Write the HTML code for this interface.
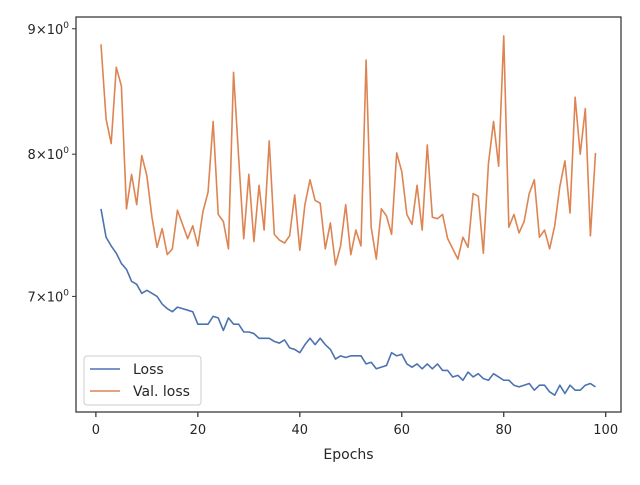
<!DOCTYPE html>
<html><head><meta charset="utf-8"><style>
body{margin:0;background:#fff}
svg text{font-family:"DejaVu Sans","Liberation Sans",sans-serif;fill:#262626}
</style></head><body>
<svg id="chart" width="640" height="480" viewBox="0 0 640 480" xmlns="http://www.w3.org/2000/svg">
<rect x="0" y="0" width="640" height="480" fill="#fff"/>
<g id="plot"></g>
</svg>
<script>
const epochs = Array.from({length:98},(_,i)=>i+1);
const lossValues = [7.60,7.40,7.34,7.29,7.22,7.18,7.10,7.08,7.02,7.04,
7.02,7.00,6.95,6.92,6.90,6.93,6.92,6.91,6.90,6.82,
6.82,6.82,6.87,6.86,6.78,6.86,6.82,6.82,6.77,6.77,
6.76,6.73,6.73,6.73,6.71,6.70,6.72,6.67,6.66,6.64,
6.69,6.73,6.69,6.73,6.69,6.66,6.60,6.62,6.61,6.62,
6.62,6.62,6.57,6.58,6.54,6.55,6.56,6.64,6.62,6.63,
6.57,6.55,6.57,6.54,6.57,6.54,6.57,6.53,6.53,6.49,
6.50,6.47,6.52,6.49,6.51,6.48,6.47,6.51,6.49,6.47,
6.47,6.44,6.43,6.44,6.45,6.41,6.44,6.44,6.40,6.38,
6.44,6.39,6.44,6.41,6.41,6.44,6.45,6.43];
const valLossValues = [8.87,8.27,8.08,8.68,8.53,7.60,7.85,7.63,7.99,7.84,
7.54,7.33,7.46,7.28,7.32,7.59,7.49,7.39,7.48,7.34,
7.58,7.72,8.25,7.56,7.51,7.32,8.64,7.98,7.39,7.85,
7.37,7.77,7.45,8.10,7.42,7.38,7.36,7.41,7.70,7.31,
7.63,7.81,7.66,7.64,7.32,7.50,7.21,7.34,7.63,7.28,
7.45,7.34,8.74,7.47,7.25,7.60,7.55,7.42,8.01,7.87,
7.56,7.49,7.77,7.45,8.07,7.54,7.53,7.56,7.39,7.32,
7.25,7.40,7.33,7.71,7.69,7.29,7.93,8.25,7.91,8.94,
7.47,7.56,7.43,7.51,7.71,7.81,7.40,7.45,7.32,7.48,
7.76,7.95,7.57,8.44,8.00,8.35,7.41,8.01];
const xTicks = [0,20,40,60,80,100];
const yTicks = [7,8,9];
const yTickLabels = ["7","8","9"];

const L=76,R=621,T=17,B=412;
const xMin=-3.9,xMax=103;
const yMin=6.28,yMax=9.10;
const NS="http://www.w3.org/2000/svg";
const g=document.getElementById('plot');
function xs(v){return L+(v-xMin)/(xMax-xMin)*(R-L);}
function ys(v){return B-(Math.log(v)-Math.log(yMin))/(Math.log(yMax)-Math.log(yMin))*(B-T);}
function mk(tag,attrs,parent){const e=document.createElementNS(NS,tag);for(const k in attrs)e.setAttribute(k,attrs[k]);(parent||g).appendChild(e);return e;}

function series(vals,color,name){
  const d=vals.map((v,i)=>(i?'L':'M')+xs(epochs[i]).toFixed(2)+','+ys(v).toFixed(2)).join('');
  const p=mk('path',{d:d,fill:'none',stroke:color,'stroke-width':1.6,'stroke-linejoin':'round'});
  
  
}
series(lossValues,'#4c72b0','loss-line');
series(valLossValues,'#dd8452','val-loss-line');

const frame=mk('rect',{x:L,y:T,width:R-L,height:B-T,fill:'none',stroke:'#333','stroke-width':1.25});



xTicks.forEach(t=>{
  const x=xs(t);
  mk('line',{x1:x,x2:x,y1:B,y2:B+5,stroke:'#333','stroke-width':1.25});
  const tx=mk('text',{x:x,y:B+22,'text-anchor':'middle','font-size':13});
  tx.textContent=t;
  
  
});
yTicks.forEach((t,i)=>{
  const y=ys(t);
  mk('line',{x1:L-4,x2:L,y1:y,y2:y,stroke:'#333','stroke-width':1});
  const tx=mk('text',{x:L-7,y:y+5,'text-anchor':'end','font-size':13});
  tx.innerHTML=yTickLabels[i]+'\u00d710<tspan dy="-6" font-size="9">0</tspan>';
  
  
});
const xl=mk('text',{x:(L+R)/2,y:459,'text-anchor':'middle','font-size':14});
xl.textContent='Epochs';



const lg=mk('g',{});


mk('rect',{x:84,y:356,width:117,height:49,rx:3,fill:'#fff','fill-opacity':0.8,stroke:'#ccc','stroke-width':1},lg);
mk('line',{x1:90,x2:120,y1:369,y2:369,stroke:'#4c72b0','stroke-width':1.6},lg);
mk('line',{x1:90,x2:120,y1:391,y2:391,stroke:'#dd8452','stroke-width':1.6},lg);
const l1=mk('text',{x:133,y:374,'font-size':14},lg);l1.textContent='Loss';


const l2=mk('text',{x:133,y:396,'font-size':14},lg);l2.textContent='Val. loss';


</script>
</body></html>
